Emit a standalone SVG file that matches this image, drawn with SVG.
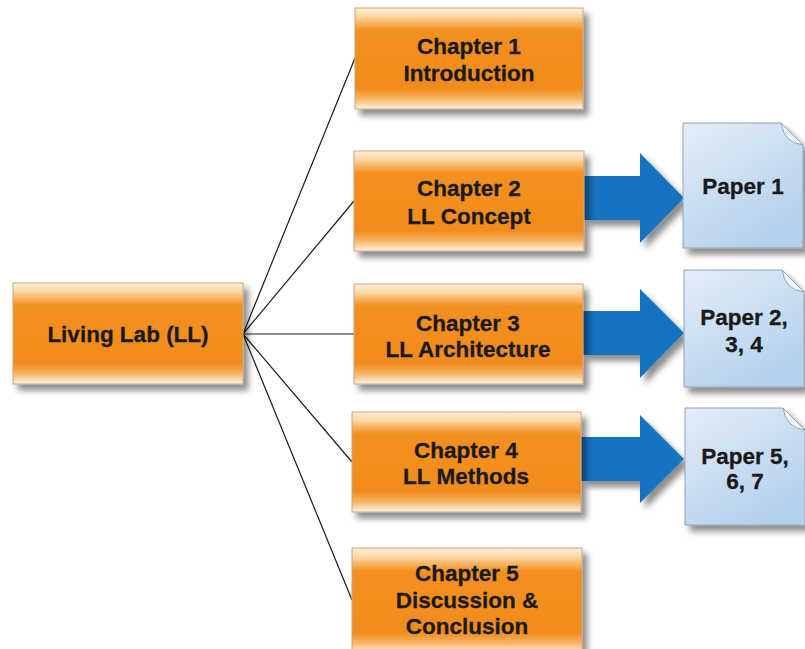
<svg xmlns="http://www.w3.org/2000/svg" width="805" height="649" viewBox="0 0 805 649">
  <defs>
    <linearGradient id="orange" x1="0" y1="0" x2="0" y2="1">
      <stop offset="0" stop-color="#fdf0dc"/>
      <stop offset="0.08" stop-color="#fbd9a6"/>
      <stop offset="0.22" stop-color="#f39020"/>
      <stop offset="0.8" stop-color="#f18c1e"/>
      <stop offset="0.9" stop-color="#f7b668"/>
      <stop offset="1" stop-color="#fef5e6"/>
    </linearGradient>
    <linearGradient id="paper" x1="0" y1="0" x2="0.6" y2="1">
      <stop offset="0" stop-color="#e4eef8"/>
      <stop offset="1" stop-color="#b4d0ec"/>
    </linearGradient>
    <filter id="shadow" x="-10%" y="-10%" width="130%" height="140%">
      <feGaussianBlur in="SourceAlpha" stdDeviation="3"/>
      <feOffset dx="5" dy="6" result="b"/>
      <feComponentTransfer><feFuncA type="linear" slope="0.45"/></feComponentTransfer>
      <feMerge><feMergeNode/><feMergeNode in="SourceGraphic"/></feMerge>
    </filter>
  </defs>
  <style>
    .box { fill: url(#orange); stroke: #caa67c; stroke-width: 1; filter: url(#shadow); }
    .doc { fill: url(#paper); stroke: #8ea4b8; stroke-width: 1; filter: url(#shadow); }
    .fold { fill: #f2f6fb; stroke: #8ea4b8; stroke-width: 1; }
    .arrow { fill: #1673c1; filter: url(#shadow); }
    .lbl { font-family: "Liberation Sans", Arial, sans-serif; font-weight: bold; font-size: 22.5px; fill: #1a1a1a; stroke: #1a1a1a; stroke-width: 0.3; text-anchor: middle; }
    .link { stroke: #1a1a1a; stroke-width: 1.2; fill: none; }
  </style>

  <rect width="805" height="649" fill="#ffffff"/>

  <g id="connectors">
    <line class="link" x1="243" y1="334" x2="355" y2="58"/>
    <line class="link" x1="243" y1="334" x2="354" y2="201"/>
    <line class="link" x1="243" y1="334" x2="354" y2="334"/>
    <line class="link" x1="243" y1="334" x2="352" y2="462"/>
    <line class="link" x1="243" y1="334" x2="352" y2="600"/>
    <polygon class="arrow" points="584,176 640,176 640,153 684,198 640,243 640,220 584,220"/>
    <polygon class="arrow" points="583,311 640,311 640,289 684,333 640,378 640,355 583,355"/>
    <polygon class="arrow" points="581,437 640,437 640,415 684,459 640,503 640,481 581,481"/>
  </g>

  <g id="living-lab">
    <rect class="box" x="13" y="283" width="230" height="101"/>
    <text class="lbl" x="128" y="342">Living Lab (LL)</text>
  </g>

  <g id="chapter1">
    <rect class="box" x="355" y="8" width="228" height="101"/>
    <text class="lbl" x="469" y="54">Chapter 1</text>
    <text class="lbl" x="469" y="81">Introduction</text>
  </g>

  <g id="chapter2">
    <rect class="box" x="354" y="151" width="230" height="100"/>
    <text class="lbl" x="469" y="196">Chapter 2</text>
    <text class="lbl" x="469" y="224">LL Concept</text>
  </g>

  <g id="chapter3">
    <rect class="box" x="354" y="284" width="229" height="100"/>
    <text class="lbl" x="468" y="331">Chapter 3</text>
    <text class="lbl" x="468" y="357">LL Architecture</text>
  </g>

  <g id="chapter4">
    <rect class="box" x="352" y="412" width="229" height="100"/>
    <text class="lbl" x="466" y="458">Chapter 4</text>
    <text class="lbl" x="466" y="484">LL Methods</text>
  </g>

  <g id="chapter5">
    <rect class="box" x="352" y="548" width="230" height="106"/>
    <text class="lbl" x="467" y="581">Chapter 5</text>
    <text class="lbl" x="467" y="608">Discussion &amp;</text>
    <text class="lbl" x="467" y="634">Conclusion</text>
  </g>

  <g id="paper1">
    <path class="doc" d="M683,123 H781 L803,145 V248 H683 Z"/>
    <path class="fold" d="M781,123 Q784,143 803,145 Z"/>
    <text class="lbl" x="743" y="194">Paper 1</text>
  </g>

  <g id="paper2">
    <path class="doc" d="M684,270 H782 L804,292 V387 H684 Z"/>
    <path class="fold" d="M782,270 Q785,290 804,292 Z"/>
    <text class="lbl" x="744" y="325">Paper 2,</text>
    <text class="lbl" x="744" y="352">3, 4</text>
  </g>

  <g id="paper3">
    <path class="doc" d="M685,408 H783 L805,430 V525 H685 Z"/>
    <path class="fold" d="M783,408 Q786,428 805,430 Z"/>
    <text class="lbl" x="745" y="464">Paper 5,</text>
    <text class="lbl" x="745" y="489">6, 7</text>
  </g>
</svg>
